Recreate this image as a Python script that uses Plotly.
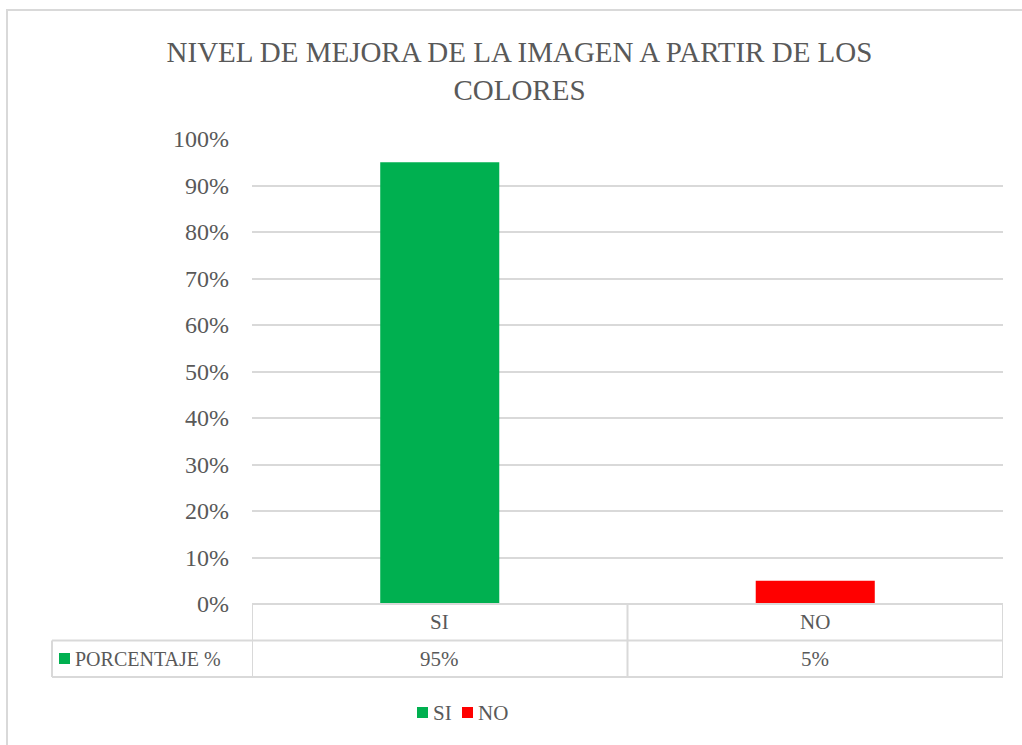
import plotly.graph_objects as go

# ---- data ----
categories = ["SI", "NO"]
values = [0.95, 0.05]
value_labels = ["95%", "5%"]
series_name = "PORCENTAJE %"
bar_colors = ["#00b050", "#ff0000"]
title_text = "NIVEL DE MEJORA DE LA IMAGEN A PARTIR DE LOS<br>COLORES"

FONT = "Liberation Serif"
TXT = "#595959"
GRID = "#d9d9d9"

W, H = 1022, 745
L, R, T, B = 252, 19, 139, 141
PW, PH = W - L - R, H - T - B

def px_x(px):
    return (px - L) / PW

def px_y(py):
    return (H - B - py) / PH

fig = go.Figure()
for cat, val, col in zip(categories, values, bar_colors):
    fig.add_trace(go.Bar(x=[cat], y=[val], name=cat, marker_color=col,
                         marker_line_width=0, showlegend=False))

shapes = []
# outer chart border
shapes.append(dict(type="rect", xref="paper", yref="paper",
                   x0=px_x(7), x1=px_x(1040), y0=px_y(760), y1=px_y(10),
                   line=dict(color=GRID, width=2), fillcolor="rgba(0,0,0,0)", layer="below"))
line_style = dict(color=GRID, width=2)
row1 = px_y(640.5)
row2 = px_y(677)
# horizontal table lines
shapes.append(dict(type="line", xref="x", yref="paper", x0=-0.5, x1=len(categories) - 0.5,
                   y0=0, y1=0, line=line_style))
shapes.append(dict(type="line", xref="paper", yref="paper", x0=px_x(52), x1=1,
                   y0=row1, y1=row1, line=line_style))
shapes.append(dict(type="line", xref="paper", yref="paper", x0=px_x(52), x1=1,
                   y0=row2, y1=row2, line=line_style))
# vertical table lines
for i in range(len(categories) + 1):
    shapes.append(dict(type="line", xref="x", yref="paper", x0=i - 0.5, x1=i - 0.5,
                       y0=0, y1=row2, line=line_style))
shapes.append(dict(type="line", xref="paper", yref="paper", x0=px_x(52), x1=px_x(52),
                   y0=row1, y1=row2, line=line_style))
# legend key in table
shapes.append(dict(type="rect", xref="paper", yref="paper", x0=px_x(59), x1=px_x(70),
                   y0=px_y(664), y1=px_y(653), fillcolor=bar_colors[0], line=dict(width=0)))

annotations = []
for cat, lab in zip(categories, value_labels):
    annotations.append(dict(x=cat, xref="x", y=(0 + row1) / 2, yref="paper", text=cat,
                            showarrow=False, font=dict(family=FONT, size=21, color=TXT),
                            xanchor="center", yanchor="middle"))
    annotations.append(dict(x=cat, xref="x", y=(row1 + row2) / 2, yref="paper", text=lab,
                            showarrow=False, font=dict(family=FONT, size=21, color=TXT),
                            xanchor="center", yanchor="middle"))
annotations.append(dict(x=px_x(73), xref="paper", y=(row1 + row2) / 2, yref="paper",
                        text=series_name, showarrow=False,
                        font=dict(family=FONT, size=20, color=TXT),
                        xanchor="left", yanchor="middle"))

# bottom legend (drawn manually to match spacing)
legend_x = [417, 462]
for cat, col, lx in zip(categories, bar_colors, legend_x):
    shapes.append(dict(type="rect", xref="paper", yref="paper", x0=px_x(lx), x1=px_x(lx + 11),
                       y0=px_y(718), y1=px_y(707), fillcolor=col, line=dict(width=0)))
    annotations.append(dict(x=px_x(lx + 14), xref="paper", y=px_y(713), yref="paper",
                            text=cat, showarrow=False, xanchor="left", yanchor="middle",
                            font=dict(family=FONT, size=21, color=TXT)))

fig.update_layout(
    width=W, height=H,
    margin=dict(l=L, r=R, t=T, b=B),
    paper_bgcolor="white", plot_bgcolor="white",
    font=dict(family=FONT, color=TXT),
    title=dict(text=title_text, x=519.5 / W, xref="container", xanchor="center",
               y=1 - 62 / H, yref="container", yanchor="middle",
               font=dict(family=FONT, size=29, color=TXT)),
    barmode="overlay",
    bargap=0.683,
    showlegend=False,
    xaxis=dict(categoryorder="array", categoryarray=categories, range=[-0.5, 1.5],
               showticklabels=False, showgrid=False, zeroline=False, showline=False,
               ticks=""),
    yaxis=dict(range=[0, 1], dtick=0.1, tickformat=".0%", showgrid=True,
               gridcolor=GRID, gridwidth=1.5, zeroline=False, showline=False,
               ticks="", ticklabelstandoff=22,
               tickfont=dict(family=FONT, size=24, color=TXT)),
    shapes=shapes,
    annotations=annotations,
)

fig.write_html("out.html", config={"displayModeBar": False},
               post_script="document.body.style.margin='0';document.body.style.padding='0';")
